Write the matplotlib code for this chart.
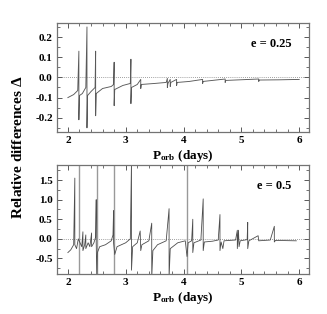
import matplotlib as mpl
mpl.use('Agg')
import matplotlib.pyplot as plt
import matplotlib.ticker as ticker

mpl.rcParams['font.family'] = 'serif'
mpl.rcParams['font.serif'] = ['Liberation Serif', 'DejaVu Serif']
mpl.rcParams['font.weight'] = 'bold'
mpl.rcParams['mathtext.fontset'] = 'custom'
mpl.rcParams['mathtext.rm'] = 'Liberation Serif:bold'
mpl.rcParams['mathtext.it'] = 'Liberation Serif:bold'
mpl.rcParams['mathtext.bf'] = 'Liberation Serif:bold'

# ---------------------------------------------------------------------------- #
# e = 0.25 : relative difference curve
p_top = [2.00, 2.10, 2.17, 2.19, 2.19, 2.20, 2.25, 2.31, 2.33, 2.33, 2.34, 2.40,
         2.47, 2.48, 2.48, 2.49, 2.60, 2.75, 2.79, 2.80, 2.80, 2.81, 2.95, 3.08,
         3.09, 3.09, 3.10, 3.20, 3.26, 3.26, 3.27, 3.50, 3.70, 3.72, 3.72, 3.73,
         3.77, 3.77, 3.78, 3.88, 3.88, 3.89, 4.10, 4.33, 4.33, 4.34, 4.72, 4.72,
         4.73, 5.30, 5.30, 5.31, 5.65, 6.00]
d_top = [-0.100, -0.085, -0.065, 0.130, -0.210, -0.090, -0.080, -0.050, 0.250, -0.250,
         -0.090, -0.070, -0.050, 0.130, -0.190, -0.080, -0.055, -0.045, -0.035, 0.075,
         -0.140, -0.060, -0.040, -0.030, 0.090, -0.130, -0.050, -0.035, -0.010, -0.055,
         -0.035, -0.030, -0.025, -0.005, -0.050, -0.030, -0.010, -0.045, -0.025, -0.010,
         -0.040, -0.025, -0.020, -0.010, -0.030, -0.020, -0.008, -0.025, -0.015, -0.008,
         -0.020, -0.013, -0.012, -0.010]

# e = 0.5
p_bot = [2.00, 2.05, 2.10, 2.12, 2.12, 2.15, 2.18, 2.24, 2.26, 2.26, 2.29, 2.31,
         2.31, 2.35, 2.38, 2.41, 2.41, 2.45, 2.48, 2.49, 2.49, 2.50, 2.51, 2.55,
         2.65, 2.75, 2.78, 2.79, 2.79, 2.81, 2.85, 3.00, 3.08, 3.10, 3.10, 3.12,
         3.20, 3.25, 3.26, 3.28, 3.40, 3.45, 3.45, 3.47, 3.55, 3.70, 3.75, 3.75,
         3.77, 3.90, 4.03, 4.06, 4.08, 4.14, 4.16, 4.16, 4.18, 4.30, 4.34, 4.34,
         4.36, 4.50, 4.60, 4.63, 4.63, 4.65, 4.68, 4.70, 4.90, 4.93, 4.93, 4.95,
         4.96, 4.98, 5.10, 5.11, 5.11, 5.13, 5.29, 5.30, 5.50, 5.57, 5.57, 5.59,
         5.95]
d_bot = [-0.35, -0.28, -0.15, 1.55, -0.15, -0.25, 0.00, -0.20, 0.18, -0.30,
         -0.15, 0.10, -0.25, -0.10, -0.20, 0.15, -0.20, -0.10, 0.05, 1.00,
         -0.10, -1.00, -0.35, -0.20, -0.15, -0.05, 0.10, 0.72, -0.10, -0.40,
         -0.20, -0.10, 0.00, 2.00, -0.80, -0.20, -0.10, 0.20, -0.30, -0.15,
         -0.05, 0.40, -1.00, -0.30, -0.15, -0.05, 0.77, -1.00, -0.25, -0.10,
         -0.05, -0.45, -0.10, -0.05, 0.50, -0.35, -0.10, -0.03, 1.02, -0.30,
         -0.08, -0.06, -0.03, 0.62, -0.30, -0.08, -0.25, -0.05, -0.03, 0.22,
         -0.25, 0.22, -0.20, -0.05, -0.02, 0.42, -0.25, -0.05, 0.08, -0.05,
         -0.03, 0.32, -0.08, -0.04, -0.05]

# full-height resonances drawn in light grey (e = 0.5)
spike_light = [2.19, 2.50, 2.80, 4.06]

# ---------------------------------------------------------------------------- #

fig = plt.figure(figsize=(3.27, 3.14), dpi=100)
ax1 = fig.add_axes([0.174, 0.580, 0.771, 0.347])
ax2 = fig.add_axes([0.174, 0.127, 0.771, 0.347])

ax1.plot(p_top, d_top, color='0.35', lw=0.65)
ax2.vlines(spike_light, -1.0, 2.0, color='0.6', lw=1.0)
ax2.plot(p_bot, d_bot, color='0.3', lw=0.6)

for ax in (ax1, ax2):
    ax.axhline(0.0, color='0.5', lw=0.6, ls=(0, (1, 1.5)), zorder=0)
    ax.set_xlim(1.81, 6.17)
    ax.xaxis.set_major_locator(ticker.MultipleLocator(1))
    ax.xaxis.set_minor_locator(ticker.MultipleLocator(0.2))
    ax.tick_params(which='both', direction='in', top=True, right=True,
                   colors='0.35', labelcolor='black', labelsize=8, pad=3)
    ax.tick_params(which='major', length=3.5, width=0.7)
    ax.tick_params(which='minor', length=2, width=0.6)
    for s in ax.spines.values():
        s.set_color('0.45')
        s.set_linewidth(0.9)
    ax.set_xlabel(r'P$_{\mathrm{orb}}$ (days)', fontsize=9.5, fontweight='bold', labelpad=2)

ax1.set_ylim(-0.27, 0.27)
ax1.yaxis.set_major_locator(ticker.MultipleLocator(0.1))
ax1.yaxis.set_minor_locator(ticker.MultipleLocator(0.05))
ax1.yaxis.set_major_formatter(ticker.FormatStrFormatter('%.1f'))

ax2.set_ylim(-0.9, 1.88)
ax2.yaxis.set_major_locator(ticker.MultipleLocator(0.5))
ax2.yaxis.set_minor_locator(ticker.MultipleLocator(0.25))
ax2.yaxis.set_major_formatter(ticker.FormatStrFormatter('%.1f'))

for lab in ax1.get_xticklabels() + ax1.get_yticklabels() + ax2.get_xticklabels() + ax2.get_yticklabels():
    lab.set_fontweight('bold')

ax1.text(0.93, 0.78, 'e = 0.25', transform=ax1.transAxes, ha='right', fontsize=9, fontweight='bold')
ax2.text(0.93, 0.78, 'e = 0.5', transform=ax2.transAxes, ha='right', fontsize=9, fontweight='bold')

fig.text(0.055, 0.53, r'Relative differences $\mathbf{\Delta}$', rotation='vertical',
         ha='center', va='center', fontsize=11, fontweight='bold')

plt.savefig('out.png', dpi=100)
